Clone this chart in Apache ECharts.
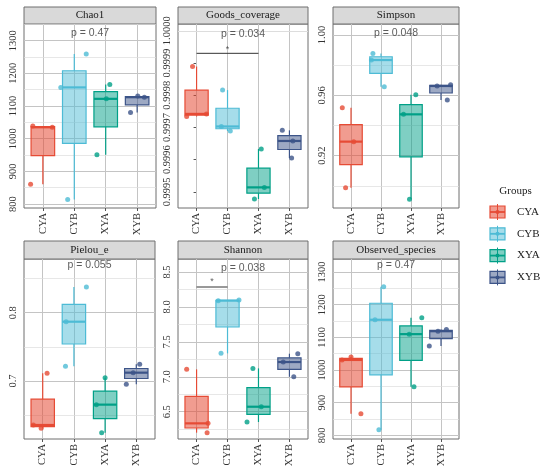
<!DOCTYPE html>
<html>
<head>
<meta charset="utf-8">
<script src="https://cdn.jsdelivr.net/npm/echarts@6/dist/echarts.min.js"></script>
<style>
  html, body { margin: 0; padding: 0; background: #fff; }
  #main { width: 550px; height: 476px; }
</style>
</head>
<body>
<div id="main"></div>
<script>
// groups and colours (npg-like palette)
var groups = ['CYA', 'CYB', 'XYA', 'XYB'];
var colors = ['#E64B35', '#4DBBD5', '#00A087', '#3C5488'];
var fills = ['rgba(230,75,53,0.55)', 'rgba(77,187,213,0.5)', 'rgba(0,160,135,0.5)', 'rgba(60,84,136,0.5)'];

var panelNames = ['Chao1', 'Goods_coverage', 'Simpson', 'Pielou_e', 'Shannon', 'Observed_species'];

// three samples per group
var chao1Values = [[861, 1035, 1039], [814, 1157, 1259], [951, 1122, 1166], [1080, 1127, 1131]];
var chao1Jitter = [[-0.39, 0.30, -0.32], [-0.21, -0.43, 0.38], [-0.28, 0.02, 0.13], [-0.21, 0.23, 0.02]];

var goodsValues = [[0.999734, 0.999742, 0.999889], [0.999689, 0.999703, 0.999816], [0.999478, 0.999514, 0.999633], [0.999605, 0.999658, 0.999691]];
var goodsJitter = [[-0.32, 0.32, -0.13], [0.09, -0.2, -0.16], [-0.13, 0.19, 0.09], [0.07, 0.11, -0.23]];

var simpsonValues = [[0.8988, 0.9293, 0.9518], [0.9657, 0.9834, 0.9878], [0.8911, 0.9474, 0.9604], [0.9569, 0.9662, 0.9671]];
var simpsonJitter = [[-0.18, 0.09, -0.29], [0.11, -0.32, -0.27], [-0.05, -0.25, 0.16], [0.21, -0.13, 0.32]];

var pielouValues = [[0.6307, 0.6356, 0.7112], [0.7215, 0.7868, 0.8376], [0.6244, 0.6654, 0.7049], [0.6951, 0.7122, 0.7244]];
var pielouJitter = [[-0.05, -0.3, 0.14], [-0.27, -0.25, 0.40], [-0.11, -0.28, 0.0], [-0.32, -0.1, 0.11]];

var shannonValues = [[6.20, 6.333, 7.106], [7.335, 8.09, 8.10], [6.352, 6.571, 7.12], [7.0, 7.211, 7.33]];
var shannonJitter = [[0.34, 0.37, -0.32], [-0.21, -0.3, 0.37], [-0.37, 0.09, -0.18], [0.14, -0.2, 0.27]];

var observedValues = [[866, 1031, 1040], [817, 1154, 1255], [949, 1110, 1160], [1074, 1119, 1124]];
var observedJitter = [[0.33, -0.3, 0.0], [-0.07, -0.2, 0.09], [0.1, -0.06, 0.36], [-0.39, -0.1, 0.18]];

// y tick labels per panel
var chao1Ticks = [800, 900, 1000, 1100, 1200, 1300];
var goodsTicks = [0.9995, 0.9996, 0.9997, 0.9998, 0.9999, 1.0000];
var simpsonTicks = [0.92, 0.96, 1.00];
var pielouTicks = [0.7, 0.8];
var shannonTicks = [6.5, 7.0, 7.5, 8.0, 8.5];
var observedTicks = [800, 900, 1000, 1100, 1200, 1300];

var pLabels = ['p = 0.47', 'p = 0.034', 'p = 0.048', 'p = 0.055', 'p = 0.038', 'p = 0.47'];

var allValues = [chao1Values, goodsValues, simpsonValues, pielouValues, shannonValues, observedValues];
var allJitter = [chao1Jitter, goodsJitter, simpsonJitter, pielouJitter, shannonJitter, observedJitter];
var allTicks = [chao1Ticks, goodsTicks, simpsonTicks, pielouTicks, shannonTicks, observedTicks];
var tickDecimals = [0, 4, 2, 1, 1, 0];

// layout
var gridRects = [[24, 24, 132, 184], [178, 24, 130, 184], [333, 24, 126, 184],
                 [24, 259, 131, 180], [178, 259, 130, 180], [333, 259, 126, 180]];
var yRanges = [[788, 1351], [0.99945, 1.000021], [0.8853, 1.0073],
               [0.6151, 0.8786], [6.109, 8.686], [789, 1340]];
var pLabelY = [1323, 0.99999, 1.0011, 0.8694, 8.562, 1320];
// significance brackets: panel, from group, to group, line y, star y
var brackets = [[1, 0, 2, 0.99993, 0.999943], [4, 0, 1, 8.285, 8.361]];

var serif = 'Liberation Serif';
var sans = 'Liberation Sans';

function quantile(s, p) {
  var h = (s.length - 1) * p, lo = Math.floor(h), hi = Math.min(lo + 1, s.length - 1);
  return s[lo] + (h - lo) * (s[hi] - s[lo]);
}

function boxStats(vals) {
  var s = vals.slice().sort(function (a, b) { return a - b; });
  var q1 = quantile(s, 0.25), md = quantile(s, 0.5), q3 = quantile(s, 0.75), iqr = q3 - q1;
  var inside = s.filter(function (v) { return v >= q1 - 1.5 * iqr && v <= q3 + 1.5 * iqr; });
  return [Math.min.apply(null, inside), q1, md, q3, Math.max.apply(null, inside)];
}

function renderBox(params, api) {
  var x = api.value(0), gi = api.value(6);
  var lo = api.coord([x, api.value(1)]);
  var q1 = api.coord([x, api.value(2)]);
  var md = api.coord([x, api.value(3)]);
  var q3 = api.coord([x, api.value(4)]);
  var hi = api.coord([x, api.value(5)]);
  var w = api.size([0.75, 0])[0];
  var c = colors[gi];
  return {
    type: 'group',
    children: [
      { type: 'line', shape: { x1: lo[0], y1: lo[1], x2: q1[0], y2: q1[1] }, style: { stroke: c, lineWidth: 1.2 } },
      { type: 'line', shape: { x1: q3[0], y1: q3[1], x2: hi[0], y2: hi[1] }, style: { stroke: c, lineWidth: 1.2 } },
      { type: 'rect', shape: { x: q3[0] - w / 2, y: q3[1], width: w, height: q1[1] - q3[1] },
        style: { fill: fills[gi], stroke: c, lineWidth: 1.2 } },
      { type: 'line', shape: { x1: md[0] - w / 2, y1: md[1], x2: md[0] + w / 2, y2: md[1] },
        style: { stroke: c, lineWidth: 2.2 } }
    ]
  };
}

var option = { animation: false, grid: [], xAxis: [], yAxis: [], series: [], graphic: [] };

panelNames.forEach(function (name, i) {
  var r = gridRects[i];
  var ticks = allTicks[i];
  var step = ticks[1] - ticks[0];
  var yMin = yRanges[i][0], yMax = yRanges[i][1];

  option.grid.push({
    left: r[0], top: r[1], width: r[2], height: r[3],
    show: true, borderColor: '#6e6e6e', borderWidth: 1, backgroundColor: '#fff'
  });

  option.xAxis.push({
    type: 'value', gridIndex: i, min: -0.6, max: 3.6,
    axisLine: { show: false }, splitLine: { show: false },
    axisTick: { customValues: [0, 1, 2, 3], length: 3, lineStyle: { color: '#555' } },
    axisLabel: {
      customValues: [0, 1, 2, 3], rotate: 90, margin: 5,
      formatter: function (v) { return groups[Math.round(v)]; },
      fontFamily: serif, fontSize: 10.5, color: '#333'
    }
  });

  option.yAxis.push({
    type: 'value', gridIndex: i, min: yMin, max: yMax,
    axisLine: { show: false }, splitLine: { show: false },
    axisTick: { customValues: ticks, length: 3, lineStyle: { color: '#555' } },
    axisLabel: {
      customValues: ticks, rotate: 90, margin: 5,
      formatter: function (v) { return Number(v).toFixed(tickDecimals[i]); },
      fontFamily: serif, fontSize: 10.5, color: '#333'
    }
  });

  // gridlines: major at ticks and categories, minor halfway
  var lines = [];
  [0, 1, 2, 3].forEach(function (k) {
    lines.push({ xAxis: k, lineStyle: { color: '#c4c4c4', width: 1, type: 'solid' } });
  });
  ticks.forEach(function (t) {
    lines.push({ yAxis: t, lineStyle: { color: '#c4c4c4', width: 1, type: 'solid' } });
  });
  var minors = [ticks[0] - step / 2].concat(ticks.map(function (t) { return t + step / 2; }));
  minors.forEach(function (m) {
    if (m > yMin && m < yMax) {
      lines.push({ yAxis: m, lineStyle: { color: '#dcdcdc', width: 0.7, type: 'solid' } });
    }
  });

  var boxData = allValues[i].map(function (vals, gi) {
    return [gi].concat(boxStats(vals)).concat([gi]);
  });

  option.series.push({
    type: 'custom', xAxisIndex: i, yAxisIndex: i, z: 2,
    renderItem: renderBox, data: boxData,
    encode: { x: 0, y: [1, 2, 3, 4, 5] },
    silent: true,
    markLine: { silent: true, z: 1, symbol: 'none', label: { show: false }, animation: false, data: lines }
  });

  var pts = [];
  allValues[i].forEach(function (vals, gi) {
    vals.forEach(function (v, k) {
      pts.push({ value: [gi + allJitter[i][gi][k], v], itemStyle: { color: colors[gi] } });
    });
  });
  option.series.push({
    type: 'scatter', xAxisIndex: i, yAxisIndex: i, z: 3, symbolSize: 5,
    data: pts, silent: true
  });

  // p-value label
  option.series.push({
    type: 'scatter', xAxisIndex: i, yAxisIndex: i, z: 4, symbolSize: 0, silent: true,
    data: [[1.5, pLabelY[i]]],
    label: {
      show: true, position: 'inside', formatter: pLabels[i],
      fontFamily: sans, fontSize: 10.5, color: '#333'
    }
  });

  // strip
  option.graphic.push({
    type: 'rect', shape: { x: r[0], y: r[1] - (i < 3 ? 17 : 18), width: r[2], height: i < 3 ? 17 : 18 },
    style: { fill: '#d9d9d9', stroke: '#6e6e6e', lineWidth: 1 }
  });
  option.graphic.push({
    type: 'text', x: r[0] + r[2] / 2, y: r[1] - (i < 3 ? 8.5 : 9),
    style: { text: name, fontFamily: serif, fontSize: 11, fill: '#1a1a1a', align: 'center', verticalAlign: 'middle' }
  });
});

brackets.forEach(function (b) {
  var i = b[0];
  option.series.push({
    type: 'line', xAxisIndex: i, yAxisIndex: i, z: 4, silent: true, symbol: 'none',
    lineStyle: { color: '#333', width: 1 },
    data: [[b[1], b[3]], [b[2], b[3]]]
  });
  option.series.push({
    type: 'scatter', xAxisIndex: i, yAxisIndex: i, z: 4, symbolSize: 0, silent: true,
    data: [[(b[1] + b[2]) / 2, b[4]]],
    label: { show: true, position: 'inside', formatter: '*', fontFamily: sans, fontSize: 9, color: '#333' }
  });
});

// legend
option.graphic.push({
  type: 'text', x: 515.5, y: 191,
  style: { text: 'Groups', fontFamily: serif, fontSize: 11, fill: '#1a1a1a', align: 'center', verticalAlign: 'middle' }
});
groups.forEach(function (g, gi) {
  var cy = 212 + gi * 21.8;
  option.graphic.push({ type: 'line', shape: { x1: 497.5, y1: cy - 8, x2: 497.5, y2: cy + 8 }, style: { stroke: colors[gi], lineWidth: 1 } });
  option.graphic.push({ type: 'rect', shape: { x: 490, y: cy - 6, width: 15, height: 12 }, style: { fill: fills[gi], stroke: colors[gi], lineWidth: 1.2 } });
  option.graphic.push({ type: 'line', shape: { x1: 490, y1: cy, x2: 505, y2: cy }, style: { stroke: colors[gi], lineWidth: 1.8 } });
  option.graphic.push({ type: 'circle', shape: { cx: 497.5, cy: cy, r: 2 }, style: { fill: colors[gi] } });
  option.graphic.push({
    type: 'text', x: 517, y: cy,
    style: { text: g, fontFamily: serif, fontSize: 11, fill: '#1a1a1a', align: 'left', verticalAlign: 'middle' }
  });
});

var chart = echarts.init(document.getElementById('main'));
chart.setOption(option);
</script>
</body>
</html>
